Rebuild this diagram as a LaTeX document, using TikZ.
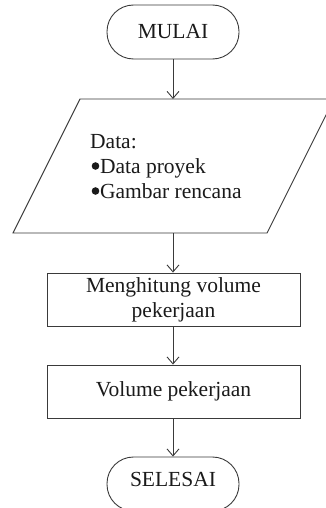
\documentclass[tikz,border=0pt]{standalone}
\usepackage{fontspec}
\setmainfont{Liberation Serif}
\usetikzlibrary{arrows.meta}
\definecolor{edge}{HTML}{3A3A3A}
\definecolor{ink}{HTML}{1A1A1A}
\newcommand{\listdot}{\kern1.5pt\tikz[baseline=0pt]\fill[ink] (0pt,7pt) circle (3.8pt);\kern0.8pt}
\tikzset{
  flowline/.style={draw=edge, line width=0.9pt},
  flowarrow/.style={flowline, -{Straight Barb[length=7pt,width=12pt]}},
  terminal/.style={flowline, rectangle, rounded corners=26.5pt,
    minimum width=132pt, minimum height=54pt, inner sep=0pt, text=ink,
    font=\fontsize{21.5}{25}\selectfont},
  process/.style={flowline, rectangle, minimum width=253pt, minimum height=53pt,
    inner sep=0pt, align=center, text=ink, font=\fontsize{21.5}{25}\selectfont},
  datatext/.style={anchor=base west, inner sep=0pt, text=ink,
    font=\fontsize{21.5}{25}\selectfont}
}
\begin{document}
\begin{tikzpicture}[x=1pt, y=-1pt]
  \useasboundingbox (0,0) rectangle (326,508);
  \clip (0,0) rectangle (326,508);

  % start
  \node[terminal] (mulai) at (173,32) {MULAI};

  % input parallelogram
  \coordinate (intop) at (173,99);
  \coordinate (inbot) at (173,233);
  \draw[flowline, line join=miter] (13,233) -- (267,233) -- (334,99) -- (80,99) -- cycle;
  \node[datatext] (d1) at (90,148) {Data:};
  \node[datatext] (d2) at (90,173) {\listdot Data proyek};
  \node[datatext] (d3) at (90,198) {\listdot Gambar rencana};

  % processing steps
  \node[process] (hitung) at (173.5,299.5) {Menghitung volume\\pekerjaan};
  \node[process] (volume) at (173.5,391.5) {Volume pekerjaan};

  % end
  \node[terminal, text depth=9pt] (selesai) at (173,484) {SELESAI};

  % connectors
  \draw[flowarrow] (mulai.south) -- (intop);
  \draw[flowarrow] (inbot) -- (inbot |- hitung.north);
  \draw[flowarrow] (hitung.south -| inbot) -- (inbot |- volume.north);
  \draw[flowarrow] (volume.south -| mulai) -- (selesai.north);
\end{tikzpicture}
\end{document}
